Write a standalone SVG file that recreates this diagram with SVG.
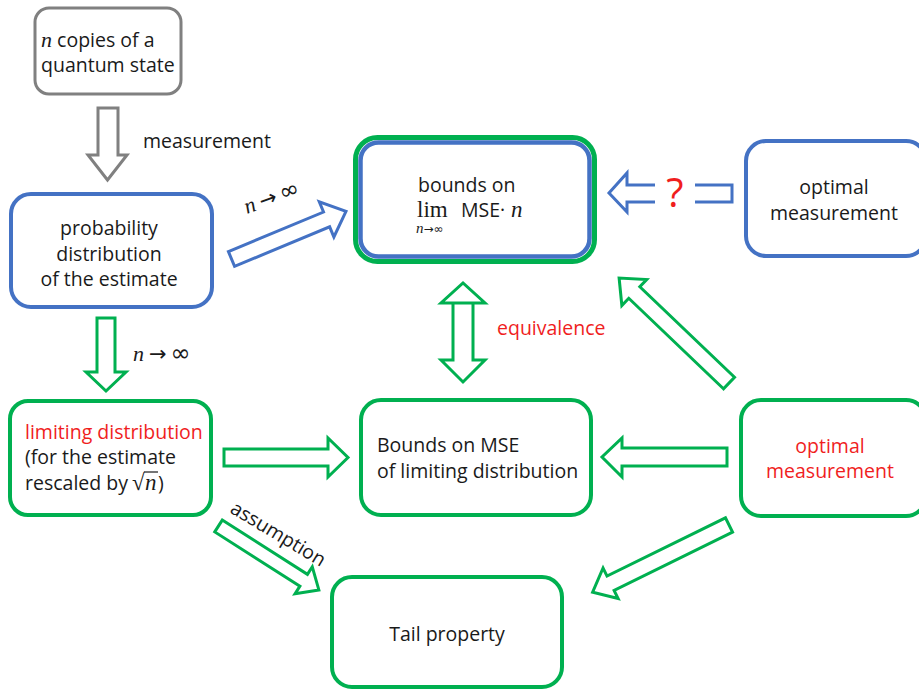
<svg xmlns="http://www.w3.org/2000/svg" width="919" height="691" viewBox="0 0 919 691">
<style>
.t{font-family:"Open Sans","Liberation Sans",sans-serif;font-size:19.5px;fill:#1a1a1a}
.c{text-anchor:middle}
.red{fill:#F01E1E}
.m{font-family:"Liberation Serif","DejaVu Serif",serif;font-style:italic}
.mu{font-family:"Liberation Serif","DejaVu Serif",serif}
.sym{font-family:"DejaVu Sans",sans-serif;font-style:normal}
.box{fill:#fff}
.g{stroke:#00B050;stroke-width:4}
.b{stroke:#4472C4;stroke-width:4}
.gr{stroke:#808080;stroke-width:3}
.ag{fill:#fff;stroke:#00B050;stroke-width:3;stroke-linejoin:miter}
.ab{fill:#fff;stroke:#4472C4;stroke-width:3;stroke-linejoin:miter}
.agr{fill:#fff;stroke:#808080;stroke-width:3}
</style>
<rect width="919" height="691" fill="#fff"/>
<g id="connectors">
<polygon class="agr" points="98,108 118,108 118,155 127,155 107.5,180 88,155 98,155"/>
<text class="t" x="143" y="148">measurement</text>
<polygon class="ag" points="97,318 115,318 115,372 126,372 106,391 86,372 97,372"/>
<text class="m" x="133" y="361" font-size="22" fill="#1a1a1a">n<tspan class="sym" font-size="21" dx="5">→</tspan><tspan class="sym" font-size="24" dx="4">∞</tspan></text>
<g transform="translate(231.5,259) rotate(-22.6)">
<polygon class="ab" points="0,-8 103,-8 103,-19 124,0 103,19 103,8 0,8"/>
</g>
<text class="m" transform="translate(247,214) rotate(-20)" font-size="22" fill="#1a1a1a">n<tspan class="sym" font-size="21" dx="5">→</tspan><tspan class="sym" font-size="24" dx="4">∞</tspan></text>
<path class="ab" fill="none" d="M655,185 L627,185 L627,173 L609,193 L627,212 L627,202 L655,202"/>
<path class="ab" fill="none" d="M695,185 L732,185 L732,202 L695,202"/>
<text x="675" y="207" text-anchor="middle" font-family="Open Sans,Liberation Sans,sans-serif" font-size="40" fill="#F01E1E">?</text>
<polygon class="ag" points="453,303 473,303 473,360 485,360 463,382 441,360 453,360 453,303 441,303 463,283 485,303 473,303"/>
<text class="t red" x="497" y="335">equivalence</text>
<polygon class="ag" points="224,449 328,449 328,438 348,457.5 328,477 328,466 224,466"/>
<polygon class="ag" points="727,448 622,448 622,438 602,457 622,477 622,466 727,466"/>
<g transform="translate(729,383) rotate(-136.3)">
<polygon class="ag" points="0,-8 131,-8 131,-18 152,0 131,18 131,8 0,8"/>
</g>
<g transform="translate(729,525) rotate(153.8)">
<polygon class="ag" points="0,-8 132,-8 132,-17 152,0 132,17 132,8 0,8"/>
</g>
<g transform="translate(218.5,526) rotate(32.5)">
<polygon class="ag" points="0,-7 101,-7 101,-16 119,0 101,16 101,7 0,7"/>
</g>
<text class="t" transform="translate(229,512) rotate(31)">assumption</text>
</g>
<g id="n1">
<rect class="box gr" x="35" y="8" width="146" height="86" rx="14"/>
<text class="t" x="41" y="47"><tspan class="m" font-size="22">n</tspan> copies of a</text>
<text class="t" x="41" y="72">quantum state</text>
</g>
<g id="n2">
<rect class="box b" x="11" y="194" width="201" height="113" rx="20"/>
<text class="t c" x="109" y="235">probability</text>
<text class="t c" x="109" y="261">distribution</text>
<text class="t c" x="109" y="286">of the estimate</text>
</g>
<g id="n3">
<rect class="box" x="355.5" y="137.5" width="239" height="124" rx="22" fill="#fff" stroke="#00B050" stroke-width="5"/>
<rect class="box" x="360.5" y="142.5" width="229" height="114" rx="18" fill="#fff" stroke="#4472C4" stroke-width="4.5"/>
<text class="t" x="418" y="192">bounds on</text>
<text class="mu" x="417" y="217" font-size="23" fill="#1a1a1a">lim</text>
<text class="m" x="416" y="233" font-size="15" fill="#1a1a1a">n<tspan class="sym" font-size="12">→∞</tspan></text>
<text class="t" x="461" y="217">MSE·<tspan class="m" font-size="23"> n</tspan></text>
</g>
<g id="n4">
<rect class="box b" x="746" y="141" width="180" height="115" rx="20"/>
<text class="t c" x="834" y="194">optimal</text>
<text class="t c" x="834" y="220">measurement</text>
</g>
<g id="n5">
<rect class="box g" x="361" y="400" width="230" height="115" rx="20"/>
<text class="t" x="377" y="452">Bounds on MSE</text>
<text class="t" x="377" y="478">of limiting distribution</text>
</g>
<g id="n6">
<rect class="box g" x="10" y="401" width="201" height="114" rx="18"/>
<text class="t red" x="25" y="439">limiting distribution</text>
<text class="t" x="25" y="464">(for the estimate</text>
<text class="t" x="25" y="490">rescaled by <tspan class="mu" font-size="23" x="132">√</tspan><tspan class="m" font-size="23" x="145">n</tspan><tspan x="158">)</tspan></text>
<line x1="144" y1="472" x2="158" y2="472" stroke="#1a1a1a" stroke-width="1.2"/>
</g>
<g id="n7">
<rect class="box g" x="741" y="400" width="185" height="116" rx="20"/>
<text class="t c red" x="830" y="453">optimal</text>
<text class="t c red" x="830" y="478">measurement</text>
</g>
<g id="n8">
<rect class="box g" x="332" y="577" width="230" height="110" rx="20"/>
<text class="t c" x="447" y="641">Tail property</text>
</g>
</svg>
